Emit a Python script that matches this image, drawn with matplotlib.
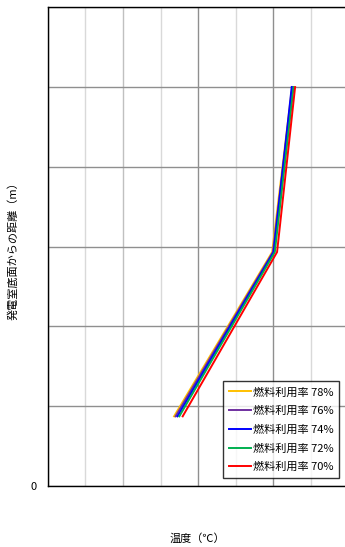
import matplotlib
matplotlib.use("Agg")
import matplotlib.pyplot as plt

plt.rcParams['font.family'] = ['Noto Sans CJK JP', 'DejaVu Sans']

# distance from floor (m) at the three measuring points
heights = [0.87, 2.93, 5.0]

# temperature per fuel utilisation rate
labels = ['燃料利用率 78%', '燃料利用率 76%', '燃料利用率 74%', '燃料利用率 72%', '燃料利用率 70%']
temp_78 = [3.36, 5.97, 6.50]
temp_76 = [3.40, 5.99, 6.51]
temp_74 = [3.45, 6.01, 6.49]
temp_72 = [3.50, 6.04, 6.54]
temp_70 = [3.59, 6.10, 6.58]
colors = ['#FFC000', '#7030A0', '#0000FF', '#00B050', '#FF0000']

W, H = 345, 547
fig = plt.figure(figsize=(W / 100, H / 100), dpi=100)
# axes runs off the right edge like in the original screenshot
ax = fig.add_axes([47.7 / W, 61.3 / H, 300.8 / W, 478.4 / H])

for temps, lab, c in zip([temp_78, temp_76, temp_74, temp_72, temp_70], labels, colors):
    ax.plot(temps, heights, color=c, lw=1.4, label=lab)

ax.set_xlim(0, 8)
ax.set_ylim(0, 6)
ax.set_xticks([0, 2, 4, 6, 8])
ax.set_xticks([1, 3, 5, 7], minor=True)
ax.set_yticks(range(7))
ax.grid(which='major', color='#8f8f8f', lw=1.0)
ax.grid(which='minor', axis='x', color='#d9d9d9', lw=1.0)
# the 2nd vertical line is paler in the original
ax.get_xgridlines()[1].set_color('#c0c0c0')
ax.tick_params(which='both', length=0)
ax.set_xticklabels([])
ax.set_yticklabels(['0', '', '', '', '', '', ''], fontsize=8)
ax.tick_params(axis='y', pad=8)
for s in ax.spines.values():
    s.set_color('black')
    s.set_linewidth(1.0)

# axis titles placed where they sit in the original
fig.text(197 / W, 1 - 539 / H, '温度（℃）', fontsize=8, ha='center', va='center')
fig.text(13 / W, 1 - 248 / H, '発電室底面からの距離（m）', fontsize=8,
         ha='center', va='center', rotation=90)

leg = ax.legend(loc='lower left', bbox_to_anchor=(175.5 / 300.8, 8 / 478.4), fontsize=8,
                frameon=True, fancybox=False, edgecolor='black', handlelength=2.0,
                handletextpad=0.2, labelspacing=0.75, borderpad=0.5, borderaxespad=0)
leg.get_frame().set_linewidth(1.0)

fig.savefig('out.png', dpi=100)
